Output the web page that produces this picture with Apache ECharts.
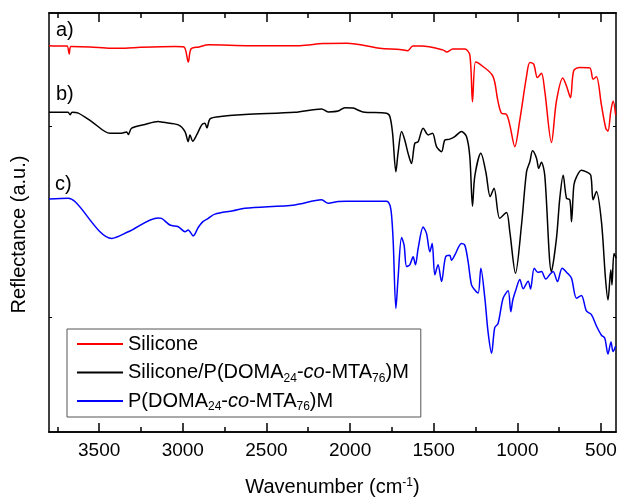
<!DOCTYPE html>
<html><head><meta charset="utf-8">
<script src="https://cdn.jsdelivr.net/npm/echarts@6/dist/echarts.min.js"></script>
<style>html,body{margin:0;padding:0;background:#fff}#c{width:617px;height:499px}</style>
</head><body><div id="c"></div>
<script>
// [wavenumber (cm-1), reflectance (a.u., offset)]
var silicone = [[3800,92.2],[3722,92.1],[3692,92.1],[3679,90.2],[3668,92.0],[3555,91.9],[3430,91.6],[3346,91.6],[3256,91.8],[3047,92.0],[2993,91.9],[2967,88.3],[2951,91.4],[2904,91.9],[2844,92.4],[2599,92.2],[2300,92.2],[2163,92.7],[2019,92.8],[1822,91.6],[1702,91.3],[1655,91.0],[1625,92.1],[1571,92.1],[1445,91.2],[1422,90.7],[1386,91.4],[1314,91.4],[1284,90.0],[1268,78.8],[1250,88.3],[1224,87.8],[1147,85.0],[1117,79.2],[1095,76.1],[1065,75.8],[1045,73.3],[1015,68.1],[985,74.5],[945,84.9],[925,88.2],[902,87.8],[880,84.6],[856,85.6],[836,81.4],[796,69.1],[766,79.0],[728,84.5],[706,82.6],[682,79.8],[663,86.2],[627,87.0],[567,86.9],[547,84.2],[527,84.8],[497,78.0],[471,72.5],[458,71.8],[441,76.6],[427,79.0],[412,75.6]];
var composite = [[3800,76.3],[3686,76.3],[3674,75.7],[3662,76.3],[3625,76.1],[3545,74.1],[3435,71.3],[3366,71.3],[3336,71.6],[3326,71.0],[3306,72.5],[3226,73.4],[3147,74.1],[3117,73.9],[3027,73.3],[2987,71.7],[2968,69.3],[2957,70.9],[2941,69.4],[2917,70.9],[2887,73.3],[2868,73.7],[2856,72.6],[2838,74.7],[2798,75.2],[2629,75.8],[2330,76.3],[2170,77.1],[2131,76.4],[2071,76.6],[2031,77.4],[1983,77.3],[1923,76.4],[1782,76.1],[1762,75.3],[1746,71.4],[1726,62.1],[1713,66.6],[1692,71.7],[1673,69.7],[1653,66.5],[1633,64.1],[1613,68.9],[1593,69.3],[1563,72.5],[1533,70.9],[1507,71.3],[1483,68.1],[1453,66.9],[1433,69.7],[1404,69.9],[1374,70.5],[1334,71.7],[1304,70.5],[1284,65.7],[1268,53.9],[1254,61.1],[1218,66.5],[1188,62.0],[1162,56.2],[1139,58.2],[1105,51.0],[1065,52.4],[1045,47.8],[1011,37.9],[975,49.4],[945,62.1],[925,64.5],[909,67.1],[885,65.3],[872,62.9],[856,64.4],[836,61.3],[796,38.3],[766,46.2],[746,55.8],[726,61.3],[706,55.8],[686,55.4],[676,50.2],[662,58.9],[646,60.9],[617,62.5],[587,62.1],[561,61.3],[547,55.4],[527,57.4],[497,50.2],[473,36.7],[458,31.5],[441,38.7],[434,35.1],[422,42.6],[409,41.5]];
var copolymer = [[3800,55.6],[3685,55.8],[3645,55.0],[3425,46.2],[3326,47.8],[3147,51.1],[3127,51.0],[3077,49.4],[3027,49.0],[2987,47.8],[2968,48.2],[2938,46.8],[2908,48.8],[2880,50.2],[2848,51.0],[2808,52.0],[2699,52.8],[2629,53.4],[2330,54.2],[2170,55.4],[2131,54.6],[2071,55.0],[2021,55.1],[1782,55.1],[1762,54.2],[1752,51.8],[1742,45.4],[1726,29.5],[1713,36.7],[1692,46.4],[1677,44.6],[1662,39.5],[1643,39.9],[1623,41.8],[1609,39.9],[1593,43.8],[1563,48.9],[1543,47.4],[1523,43.0],[1509,45.0],[1493,37.5],[1474,39.9],[1453,35.9],[1429,41.8],[1404,42.2],[1394,41.0],[1374,42.2],[1334,45.0],[1314,44.6],[1294,40.6],[1274,35.1],[1254,33.9],[1234,33.2],[1218,39.1],[1194,31.9],[1175,23.9],[1154,18.8],[1135,24.9],[1115,25.9],[1085,31.9],[1055,33.7],[1039,28.7],[1027,31.5],[1009,33.9],[985,36.4],[965,34.2],[935,36.0],[921,34.1],[899,39.1],[878,38.1],[856,38.3],[830,36.5],[803,37.7],[786,38.3],[760,35.9],[732,39.1],[700,37.9],[676,36.7],[646,31.9],[617,32.6],[587,28.9],[557,28.0],[527,25.3],[497,23.1],[477,22.4],[458,18.6],[440,21.5],[428,19.2],[412,20.5]];
var seriesNames = ['Silicone', 'Silicone/P(DOMA24-co-MTA76)M', 'P(DOMA24-co-MTA76)M'];
var legendRich = ['Silicone', 'Silicone/P(DOMA{sub|24}-{it|co}-MTA{sub|76})M', 'P(DOMA{sub|24}-{it|co}-MTA{sub|76})M'];
var curveLabels = ['a)', 'b)', 'c)'];
var majorTicks = [500, 1000, 1500, 2000, 2500, 3000, 3500];
var minorTicks = [750, 1250, 1750, 2250, 2750, 3250, 3750];
var yTicks = [27.5, 72.9];
var colors = ['#ff0000', '#000000', '#0000ff'];

var FONT = '"Liberation Sans", Arial, sans-serif';
var chart = echarts.init(document.getElementById('c'), null, {renderer: 'canvas'});
function xAx(pos, ticks, len, showLabel) {
  return {
    type: 'value', position: pos, min: 410, max: 3800, inverse: true,
    axisLine: {show: true, onZero: false, lineStyle: {color: '#000', width: 1.5}},
    axisTick: {show: true, inside: true, length: len, customValues: ticks, lineStyle: {color: '#000', width: 1.5}},
    axisLabel: {show: showLabel, customValues: ticks, margin: 9, color: '#000', fontSize: 19, fontFamily: FONT,
      formatter: function (v) { return String(v); }},
    splitLine: {show: false}
  };
}
var xb = xAx('bottom', majorTicks, 9, true);
xb.name = 'Wavenumber (cm{sup|-1})';
xb.nameLocation = 'middle';
xb.nameGap = 45;
xb.nameTextStyle = {color: '#000', fontSize: 20, fontFamily: FONT,
  rich: {sup: {fontSize: 12, verticalAlign: 'top', fontFamily: FONT, color: '#000', padding: [0, 0, 8, 0]}}};
function yAx(pos, named) {
  var a = {
    type: 'value', position: pos, min: 0, max: 100,
    axisLine: {show: true, onZero: false, lineStyle: {color: '#000', width: 1.5}},
    axisTick: {show: true, inside: true, length: 3, customValues: yTicks, lineStyle: {color: '#000', width: 1}},
    axisLabel: {show: false, customValues: yTicks},
    splitLine: {show: false}
  };
  if (named) {
    a.name = 'Reflectance (a.u.)';
    a.nameLocation = 'middle';
    a.nameGap = 20;
    a.nameTextStyle = {color: '#000', fontSize: 20, fontFamily: FONT, padding: [0, 24, 0, 0]};
  }
  return a;
}
var series = seriesNames.map(function (n, i) {
  return {
    name: n, type: 'line', xAxisIndex: 0, yAxisIndex: 0,
    data: [silicone, composite, copolymer][i],
    showSymbol: false, symbol: 'none', smooth: 0.3,
    lineStyle: {color: colors[i], width: 1.5}, itemStyle: {color: colors[i]},
    animation: false
  };
});
var subStyle = {fontSize: 12, fontFamily: FONT, color: '#000', verticalAlign: 'bottom', lineHeight: 24, padding: [11, 0, 0, 0]};
chart.setOption({
  animation: false,
  grid: {left: 49, right: 1, top: 13, bottom: 67, containLabel: false, outerBoundsMode: 'none'},
  xAxis: [xb, xAx('bottom', minorTicks, 5, false), xAx('top', majorTicks, 9, false), xAx('top', minorTicks, 5, false)],
  yAxis: [yAx('left', true), yAx('right', false)],
  legend: {
    orient: 'vertical', left: 67, top: 329, itemWidth: 46, itemHeight: 14, itemGap: 4.5,
    padding: [3, 12, 4, 10], borderColor: '#555', borderWidth: 1,
    icon: 'path://M0,6 L46,6 L46,8 L0,8 Z',
    selectedMode: false,
    formatter: function (name) { return legendRich[seriesNames.indexOf(name)]; },
    textStyle: {color: '#000', fontSize: 20, fontFamily: FONT, lineHeight: 24,
      rich: {sub: subStyle, it: {fontSize: 20, fontStyle: 'italic', fontFamily: FONT, color: '#000'}}},
    data: seriesNames.map(function (n, i) { return {name: n, itemStyle: {color: colors[i]}}; })
  },
  graphic: curveLabels.map(function (t, i) {
    return {type: 'text', left: [56, 56, 55][i], top: [20, 84, 174][i],
      style: {text: t, fill: '#000', fontSize: 20, fontFamily: FONT}};
  }),
  series: series
});
</script></body></html>
